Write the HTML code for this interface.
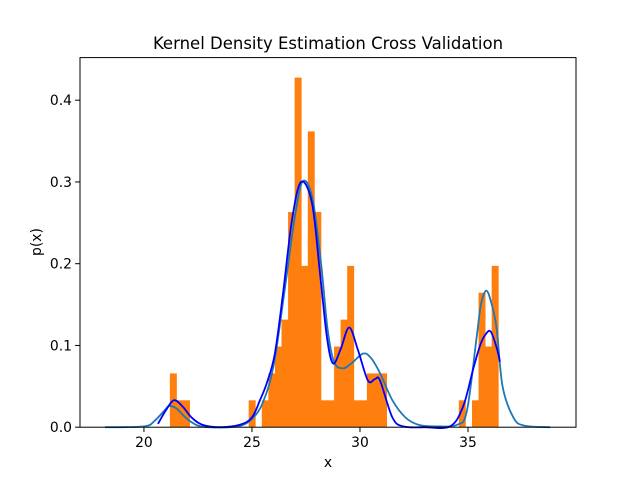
<!DOCTYPE html>
<html><head><meta charset="utf-8"><style>
body{margin:0;background:#fff}
svg{display:block;font-family:"DejaVu Sans","Liberation Sans",sans-serif}
</style></head><body>
<svg id="chart" width="640" height="480" viewBox="0 0 640 480">
<rect width="640" height="480" fill="#fff"/>
<text x="328" y="49" text-anchor="middle" font-size="16.5" fill="#000">Kernel Density Estimation Cross Validation</text>
<g id="bars"></g>
<g id="lines"></g>
<rect x="80" y="57.6" width="496" height="369.6" fill="none" stroke="#000" stroke-width="1"/>
<g id="ticks"></g>
<text x="328" y="467" text-anchor="middle" font-size="13.9">x</text>
<text transform="translate(41,242) rotate(-90)" text-anchor="middle" font-size="13.9">p(x)</text>
</svg>
<script>
const binStart = 21.2;
const binWidth = 0.304;
const sampleCount = 100;
const binCounts = [2,1,1,0,0,0,0,0,0,0,0,0,1,0,1,2,3,4,8,13,6,11,8,1,1,3,4,6,1,1,2,2,2,0,0,0,0,0,0,0,0,0,0,0,1,0,1,5,3,6];
const kdeCvX = [18.2,20,20.5,21.0,21.17,21.5,21.8,22.1,22.5,23,24,24.5,25,25.5,26,26.5,27,27.36,27.8,28.2,28.5,28.8,29.2,29.6,30.14,30.5,30.93,31.5,32.1,32.7,33.5,34.5,34.95,35.4,35.6,35.85,36.1,36.33,36.6,37.1,37.6,38.8];
const kdeCvY = [0,0.001,0.008,0.022,0.026,0.023,0.015,0.008,0.002,0,0,0.002,0.01,0.03,0.075,0.165,0.26,0.301,0.28,0.20,0.12,0.08,0.072,0.078,0.09,0.085,0.066,0.033,0.012,0.003,0.001,0.003,0.02,0.11,0.15,0.167,0.15,0.12,0.05,0.012,0.002,0];
const kdeX = [20.65,21.0,21.39,21.8,22.2,22.7,23.5,24.44,25.0,25.37,25.7,26.06,26.44,26.85,27.27,27.78,28.15,28.47,28.75,29.1,29.5,29.9,30.37,30.7,30.93,31.5,32.0,33,34.17,34.77,35.23,35.56,35.8,36.05,36.33,36.48];
const kdeY = [0.004,0.02,0.033,0.025,0.012,0.003,0,0.003,0.012,0.033,0.055,0.09,0.164,0.253,0.30,0.274,0.188,0.11,0.078,0.095,0.122,0.095,0.057,0.059,0.057,0.012,0.001,0,0.001,0.025,0.07,0.10,0.113,0.117,0.097,0.08];
const xTicks = [20,25,30,35];
const yTicks = [0.0,0.1,0.2,0.3,0.4];
const yTickLabels = ["0.0","0.1","0.2","0.3","0.4"];

const L=80,R=576,T=57.6,B=427.2;
const xMin=17.04,xMax=40.0,yMin=0,yMax=0.4521;
const sx=v=>L+(v-xMin)/(xMax-xMin)*(R-L);
const sy=v=>B-(v-yMin)/(yMax-yMin)*(B-T);
const NS="http://www.w3.org/2000/svg";
const bars=document.getElementById('bars');
binCounts.forEach((c,i)=>{
  if(!c) return;
  const d=c/(sampleCount*binWidth);
  const x0=sx(binStart+i*binWidth), x1=sx(binStart+(i+1)*binWidth);
  const r=document.createElementNS(NS,'rect');
  r.setAttribute('x',x0);r.setAttribute('width',x1-x0+0.4);
  r.setAttribute('y',sy(d));r.setAttribute('height',B-sy(d));
  r.setAttribute('fill','#ff7f0e');
  
  
  bars.appendChild(r);
});
function pathFor(xs,ys){
  const p=xs.map((x,i)=>[sx(x),sy(ys[i])]);
  let d='M'+p[0][0]+','+p[0][1];
  for(let i=0;i<p.length-1;i++){
    const p0=p[Math.max(0,i-1)],p1=p[i],p2=p[i+1],p3=p[Math.min(p.length-1,i+2)];
    const c1=[p1[0]+(p2[0]-p0[0])/6,p1[1]+(p2[1]-p0[1])/6];
    const c2=[p2[0]-(p3[0]-p1[0])/6,p2[1]-(p3[1]-p1[1])/6];
    d+=`C${c1[0]},${c1[1]} ${c2[0]},${c2[1]} ${p2[0]},${p2[1]}`;
  }
  return d;
}
const lines=document.getElementById('lines');
const l1=document.createElementNS(NS,'path');
l1.setAttribute('d',pathFor(kdeCvX,kdeCvY));
l1.setAttribute('fill','none');l1.setAttribute('stroke','#1f77b4');l1.setAttribute('stroke-width','1.8');


lines.appendChild(l1);
const l2=document.createElementNS(NS,'path');
l2.setAttribute('d',pathFor(kdeX,kdeY));
l2.setAttribute('fill','none');l2.setAttribute('stroke','#0000ff');l2.setAttribute('stroke-width','1.8');


lines.appendChild(l2);
const ticks=document.getElementById('ticks');
xTicks.forEach(v=>{
  const x=sx(v);
  const ln=document.createElementNS(NS,'line');
  ln.setAttribute('x1',x);ln.setAttribute('x2',x);ln.setAttribute('y1',B);ln.setAttribute('y2',B+4.9);ln.setAttribute('stroke','#000');
  
  
  ticks.appendChild(ln);
  const t=document.createElementNS(NS,'text');
  t.setAttribute('x',x);t.setAttribute('y',B+20);t.setAttribute('text-anchor','middle');t.setAttribute('font-size','13.9');
  t.textContent=String(v);
  
  
  ticks.appendChild(t);
});
yTicks.forEach((v,i)=>{
  const y=sy(v);
  const ln=document.createElementNS(NS,'line');
  ln.setAttribute('x1',L-4.9);ln.setAttribute('x2',L);ln.setAttribute('y1',y);ln.setAttribute('y2',y);ln.setAttribute('stroke','#000');
  
  
  ticks.appendChild(ln);
  const t=document.createElementNS(NS,'text');
  t.setAttribute('x',L-8);t.setAttribute('y',y+5);t.setAttribute('text-anchor','end');t.setAttribute('font-size','13.9');
  t.textContent=yTickLabels[i];
  
  
  ticks.appendChild(t);
});
</script>
</body></html>
